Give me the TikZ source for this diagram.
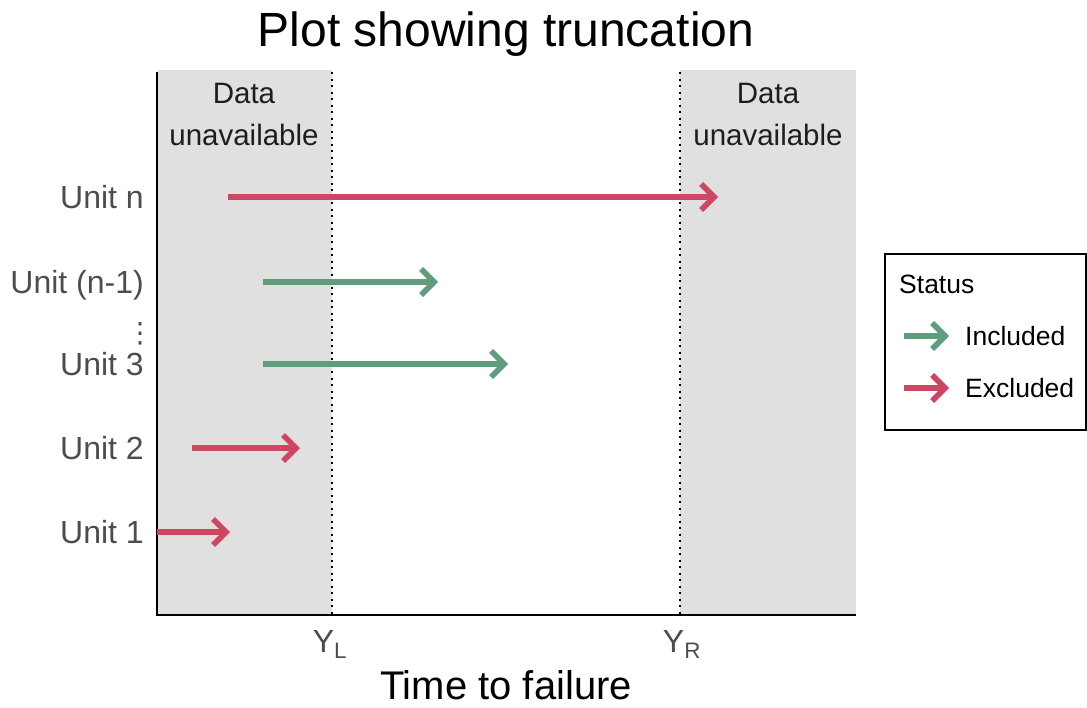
\documentclass[tikz,border=0pt]{standalone}
\usepackage{fontspec}
\setmainfont{Liberation Sans}
\newfontfamily\dejavu{DejaVu Sans}
\usetikzlibrary{arrows.meta}
\definecolor{panel}{RGB}{224,224,224}
\definecolor{exred}{RGB}{206,70,98}
\definecolor{ingreen}{RGB}{95,157,125}
\definecolor{labgray}{RGB}{77,77,77}
\definecolor{darktxt}{RGB}{30,30,30}
\tikzset{
  arr/.style={line width=5.5pt, -{Straight Barb[length=13pt,width=26pt]}},
  unitlab/.style={anchor=base east, inner sep=0pt, text=labgray, font=\fontsize{32}{32}\selectfont},
  panellab/.style={anchor=base, inner sep=0pt, text=darktxt, font=\fontsize{29.5}{29.5}\selectfont},
  ticklab/.style={anchor=base, inner sep=0pt, text=labgray, font=\fontsize{32}{32}\selectfont},
  leglab/.style={anchor=base west, inner sep=0pt, text=black, font=\fontsize{26.5}{26.5}\selectfont},
  dotline/.style={line width=2.2pt, dash pattern=on 2.2pt off 4.3pt},
}
\begin{document}
\begin{tikzpicture}[x=1pt,y=-1pt]
\useasboundingbox (0,0) rectangle (1087,707);
% panels
\fill[panel] (158,70) rectangle (332,615);
\fill[panel] (680,70) rectangle (856,615);
% dotted limits
\draw[dotline] (332,72) -- (332,615);
\draw[dotline] (680,72) -- (680,615);
% axes
\draw[line width=2pt] (157,72) -- (157,615) -- (856,615);
% title
\node[anchor=base, inner sep=0pt, font=\fontsize{48}{48}\selectfont] (title) at (506,46) {Plot showing truncation};
% panel labels
\node[panellab] (d1a) at (244,103) {Data};
\node[panellab] (d1b) at (244,145) {unavailable};
\node[panellab] (d2a) at (768,103) {Data};
\node[panellab] (d2b) at (768,145) {unavailable};
% unit labels
\node[unitlab] (un) at (144,208) {Unit n};
\node[unitlab] (un1) at (144,293) {Unit (n-1)};
\node[anchor=base, inner sep=0pt, text=labgray, font=\dejavu\fontsize{28}{28}\selectfont] (vd) at (140,342) {⋮};
\node[unitlab] (u3) at (144,375) {Unit 3};
\node[unitlab] (u2) at (144,459) {Unit 2};
\node[unitlab] (u1) at (144,543) {Unit 1};
% arrow coordinates
\coordinate (ns) at (228,197); \coordinate (ne) at (718,197);
\coordinate (n1s) at (263,282); \coordinate (n1e) at (438,282);
\coordinate (s3) at (263,364); \coordinate (e3) at (508,364);
\coordinate (s2) at (192,448); \coordinate (e2) at (300,448);
\coordinate (s1) at (157,532); \coordinate (e1) at (230,532);
\draw[arr, exred] (ns) -- (ne);
\draw[arr, ingreen] (n1s) -- (n1e);
\draw[arr, ingreen] (s3) -- (e3);
\draw[arr, exred] (s2) -- (e2);
\draw[arr, exred] (s1) -- (e1);
% ticks
\node[ticklab] (yl) at (330,652) {Y\textsubscript{L}};
\node[ticklab] (yr) at (682,652) {Y\textsubscript{R}};
% axis title
\node[anchor=base, inner sep=0pt, font=\fontsize{40}{40}\selectfont] (xlab) at (506,699) {Time to failure};
% legend
\draw[line width=2pt] (885,254) rectangle (1086,430);
\node[leglab] (status) at (899,293) {Status};
\coordinate (lgs) at (904,336); \coordinate (lge) at (949,336);
\coordinate (lrs) at (904,388); \coordinate (lre) at (949,388);
\draw[arr, ingreen] (lgs) -- (lge);
\draw[arr, exred] (lrs) -- (lre);
\node[leglab] (inc) at (965,345) {Included};
\node[leglab] (exc) at (965,397) {Excluded};
\end{tikzpicture}
\end{document}
